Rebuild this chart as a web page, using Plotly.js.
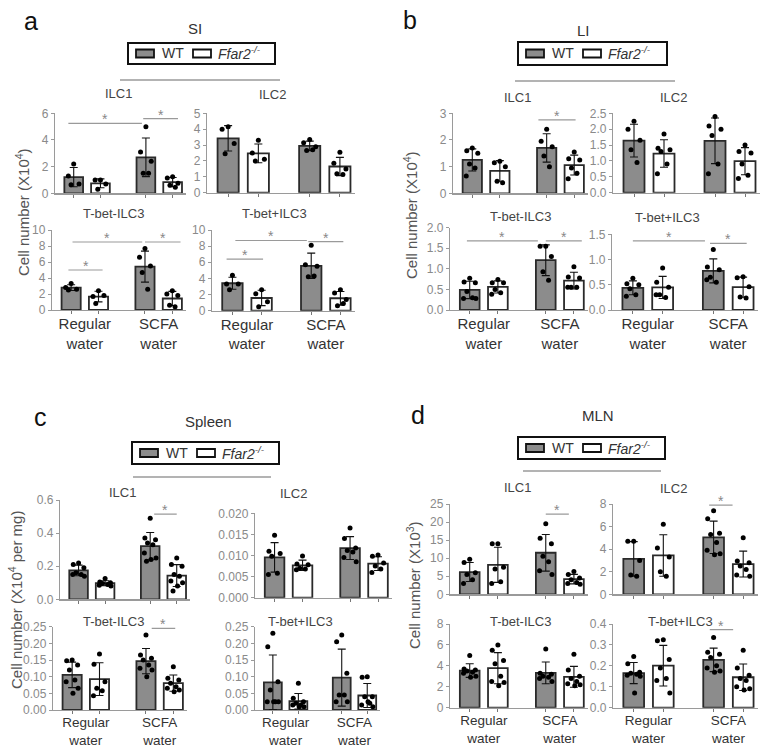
<!DOCTYPE html>
<html><head><meta charset="utf-8">
<script src="https://cdn.plot.ly/plotly-3.0.1.min.js"></script>
<style>html,body{margin:0;padding:0;background:#fff}#chart{width:764px;height:749px}</style>
</head><body><div id="chart"></div>
<script>
// ---------- categories ----------
const tissues = ['SI', 'LI', 'Spleen', 'MLN'];
const cellTypes = ['ILC1', 'ILC2', 'T-bet-ILC3', 'T-bet+ILC3'];
const genotypes = ['WT', 'Ffar2-/-'];
const waterLabels = ['Regular<br>water', 'SCFA<br>water'];
// group order in each array: WT regular, Ffar2-/- regular, WT SCFA, Ffar2-/- SCFA

// ---------- data (individual mice) ----------
const SI_ILC1 = [[2.2,1.3,0.7,0.65],[1.0,1.0,0.7,0.3],[5.0,3.1,2.4,1.5,1.5],[1.25,1.15,0.75,0.6,0.45]];
const SI_ILC2 = [[4.15,4.0,3.1,2.45],[3.3,2.5,2.1,2.0],[3.35,3.15,2.9,2.65,2.7],[2.55,1.85,1.5,1.2,1.15]];
const SI_TbetNeg = [[3.3,2.8,2.6,2.5],[2.4,1.7,1.8,0.8],[7.7,6.6,5.5,4.7,2.6],[2.4,2.0,1.8,0.6,0.4]];
const SI_TbetPos = [[4.4,3.3,3.3,2.6],[2.6,2.1,1.1,0.5],[8.1,5.7,5.5,4.2,4.3],[2.6,2.2,1.4,0.6,0.9]];

const LI_ILC1 = [[1.7,1.6,1.5,1.1,0.95,0.65],[1.2,1.15,1.0,0.45,0.4],[2.4,1.95,1.75,1.4,1.0],[1.55,1.3,1.25,0.95,0.75,0.55]];
const LI_ILC2 = [[2.25,2.0,1.65,1.35,0.95],[1.85,1.4,1.35,1.3,0.9,0.6],[2.4,2.1,2.0,1.8,0.9,0.6],[1.5,1.3,1.25,0.9,0.55,0.45]];
const LI_TbetNeg = [[0.77,0.68,0.66,0.45,0.3,0.28,0.28],[0.74,0.66,0.66,0.5,0.42,0.38],[1.55,1.55,1.3,0.93,0.72],[1.05,0.8,0.78,0.55,0.55,0.55]];
const LI_TbetPos = [[0.63,0.52,0.5,0.42,0.3,0.27],[0.83,0.55,0.45,0.3,0.25,0.3],[1.2,0.85,0.8,0.65,0.55,0.6],[0.66,0.64,0.46,0.26,0.24]];

const SP_ILC1 = [[0.22,0.21,0.19,0.16,0.15,0.15,0.14],[0.125,0.105,0.1,0.095,0.09,0.085,0.08],[0.49,0.37,0.36,0.34,0.33,0.28,0.25,0.24,0.23],[0.25,0.21,0.2,0.15,0.14,0.11,0.1,0.08,0.05]];
const SP_ILC2 = [[0.0148,0.011,0.0105,0.0098,0.0058,0.0055],[0.0099,0.008,0.0078,0.007,0.0068,0.0066],[0.0165,0.014,0.0118,0.0112,0.0108,0.0095,0.0085],[0.0101,0.0098,0.0082,0.0075,0.0068,0.006]];
const SP_TbetNeg = [[0.15,0.148,0.135,0.12,0.09,0.085,0.065,0.05],[0.168,0.137,0.085,0.065,0.058,0.043],[0.225,0.165,0.155,0.15,0.135,0.125,0.12,0.1],[0.13,0.095,0.09,0.08,0.07,0.065,0.06,0.055]];
const SP_TbetPos = [[0.23,0.19,0.085,0.06,0.025,0.025,0.025,0.025],[0.08,0.035,0.025,0.02,0.015,0.015,0.01,0.01],[0.225,0.205,0.11,0.045,0.045,0.025,0.025],[0.1,0.098,0.04,0.04,0.02,0.015,0.01,0.025]];

const MLN_ILC1 = [[9.7,8.8,6,5.5,4,3.0],[14,14,7.5,7,3.5,3],[19.5,15.5,14,10.5,9,6.5,5.5],[6.3,5.5,4.5,4,3.3,3,2.8]];
const MLN_ILC2 = [[4.7,4.7,3.0,1.7,1.6],[6.2,4.1,3.3,2.0,1.6],[7.4,6.7,5.4,5.3,4.6,3.9,3.6,3.5],[5.0,2.95,2.8,2.5,2.2,1.7,1.6]];
const MLN_TbetNeg = [[5.0,3.7,3.6,3.5,3.4,3.3,3.0,2.9],[6.0,5.5,4.5,4.2,3.0,2.5,2.4,2.1],[5.6,3.3,3.2,3.0,2.9,2.8,2.5],[5.1,3.6,3.0,2.8,2.5,2.3,2.2,2.1]];
const MLN_TbetPos = [[0.245,0.21,0.17,0.165,0.16,0.155,0.15,0.07],[0.325,0.32,0.23,0.19,0.14,0.13,0.07],[0.335,0.265,0.255,0.24,0.2,0.19,0.175,0.17],[0.275,0.19,0.155,0.14,0.13,0.1,0.09,0.085]];

// ---------- layout configuration ----------
const W = 764, H = 749;
const FONT = 'Arial, "Liberation Sans", sans-serif';
const xPos = [0, 1, 2.7, 3.7];
const fills = ['#8c8c8c', '#ffffff', '#8c8c8c', '#ffffff'];
const JIT = [0, -0.2, 0.2, -0.1, 0.1, -0.22, 0.22, 0.03, -0.14];
const AX = '#9a9a9a';

// box: [left, right, top, bottom] in px
const subplots = [
  {data: SI_ILC1, title: cellTypes[0], box: [55,186,113.3,193.3], ymax: 6, dtick: 2, fmt: '', tpos: [118,93], bottom: false, sig: [[-0.2,2.55,5.25],[2.6,3.9,5.6]]},
  {data: SI_ILC2, title: cellTypes[1], box: [207,355,113.3,192.7], ymax: 5, dtick: 1, fmt: '', tpos: [272,95], bottom: false, sig: []},
  {data: SI_TbetNeg, title: cellTypes[2], box: [52,186,230,310], ymax: 10, dtick: 2, fmt: '', tpos: [113,213], bottom: true, sig: [[-0.1,1.15,5.0],[0.05,2.6,8.5],[2.7,4.0,8.5]]},
  {data: SI_TbetPos, title: cellTypes[3], box: [212,355,230,310.7], ymax: 10, dtick: 2, fmt: '', tpos: [274,213], bottom: true, sig: [[-0.2,1.05,6.4],[0.1,2.55,8.7],[2.6,3.8,8.55]]},

  {data: LI_ILC1, title: cellTypes[0], box: [453,588,113.3,193.3], ymax: 3, dtick: 1, fmt: '', tpos: [517,97], bottom: false, sig: [[2.4,3.75,2.75]]},
  {data: LI_ILC2, title: cellTypes[1], box: [613,760,113.3,192.7], ymax: 2.5, dtick: 0.5, fmt: '.1f', tpos: [673,97], bottom: false, sig: []},
  {data: LI_TbetNeg, title: cellTypes[2], box: [450,588,227.7,310], ymax: 2, dtick: 0.5, fmt: '.1f', tpos: [520,217], bottom: true, sig: [[-0.1,2.42,1.68],[2.7,3.98,1.68]]},
  {data: LI_TbetPos, title: cellTypes[3], box: [612,758,234.3,310], ymax: 1.5, dtick: 0.5, fmt: '.1f', tpos: [667,218], bottom: true, sig: [[0.0,2.42,1.37],[2.59,3.82,1.32]]},

  {data: SP_ILC1, title: cellTypes[0], box: [60,190,500,599.3], ymax: 0.6, dtick: 0.2, fmt: '.1f', tpos: [123,492], bottom: false, sig: [[2.85,3.7,0.515]]},
  {data: SP_ILC2, title: cellTypes[1], box: [255,392,513.3,597.7], ymax: 0.02, dtick: 0.005, fmt: '.3f', tpos: [293,493], bottom: false, sig: []},
  {data: SP_TbetNeg, title: cellTypes[2], box: [53,187,626.7,710], ymax: 0.25, dtick: 0.05, fmt: '.2f', tpos: [113,621], bottom: true, sig: [[2.91,3.77,0.245]]},
  {data: SP_TbetPos, title: cellTypes[3], box: [255,380,626.7,710], ymax: 0.25, dtick: 0.05, fmt: '.2f', tpos: [300,621], bottom: true, sig: []},

  {data: MLN_ILC1, title: cellTypes[0], box: [450,588,504,594.3], ymax: 25, dtick: 5, fmt: '', tpos: [517,487], bottom: false, sig: [[2.7,3.52,22.2]]},
  {data: MLN_ILC2, title: cellTypes[1], box: [613,758,504,594.3], ymax: 8, dtick: 2, fmt: '', tpos: [673,489], bottom: false, sig: [[2.55,3.34,7.9]]},
  {data: MLN_TbetNeg, title: cellTypes[2], box: [450,588,624,707.7], ymax: 8, dtick: 2, fmt: '', tpos: [520,621], bottom: true, sig: []},
  {data: MLN_TbetPos, title: cellTypes[3], box: [613,758,624,707.7], ymax: 0.4, dtick: 0.1, fmt: '.1f', tpos: [680,621], bottom: true, sig: [[2.57,3.36,0.373]]}
];

// panel headers: letter, tissue, legend box, divider line, y-axis title
const panelHeads = [
  {letter: 'a', lpos: [31,21], tissue: tissues[0], tpos: [195,28], legend: [128,43,275,64], line: [120,280,80], ytitle: 'Cell number (X10<sup>4</sup>)', ypos: [22,212]},
  {letter: 'b', lpos: [410,20], tissue: tissues[1], tpos: [583,30], legend: [518,42,667,65], line: [515,675,81], ytitle: 'Cell number (X10<sup>4</sup>)', ypos: [410,215]},
  {letter: 'c', lpos: [40,417], tissue: tissues[2], tpos: [208,421], legend: [132,442,279,464], line: [133,271,477], ytitle: 'Cell number (X10<sup>4</sup> per mg)', ypos: [15,600]},
  {letter: 'd', lpos: [418,415], tissue: tissues[3], tpos: [598,415], legend: [518,437,665,459], line: [523,661,471], ytitle: 'Cell number (X10<sup>3</sup>)', ypos: [413,585]}
];

// ---------- helpers ----------
const px = x => x / W;
const py = y => 1 - y / H;
const mean = a => a.reduce((s, v) => s + v, 0) / a.length;
const sd = a => { const m = mean(a); return Math.sqrt(a.reduce((s, v) => s + (v - m) * (v - m), 0) / (a.length - 1)); };

const traces = [];
const layout = {
  width: W, height: H, margin: {l: 0, r: 0, t: 0, b: 0},
  paper_bgcolor: '#fff', plot_bgcolor: 'rgba(0,0,0,0)',
  showlegend: false, font: {family: FONT},
  shapes: [], annotations: []
};

subplots.forEach((sp, i) => {
  const k = i + 1;
  const lower = i >= 8;
  const xa = k === 1 ? 'x' : 'x' + k, ya = k === 1 ? 'y' : 'y' + k;
  const means = sp.data.map(mean), sds = sp.data.map(sd);
  traces.push({
    type: 'bar', x: xPos, y: means, width: 0.7, xaxis: xa, yaxis: ya,
    marker: {color: fills, line: {color: '#2a2a2a', width: 1.8}},
    error_y: {type: 'data', array: sds, visible: true, color: '#111', thickness: 1.1, width: 4},
    hoverinfo: 'skip'
  });
  const dx = [], dy = [];
  sp.data.forEach((vals, g) => vals.forEach((v, j) => { dx.push(xPos[g] + JIT[j % JIT.length]); dy.push(v); }));
  traces.push({type: 'scatter', mode: 'markers', x: dx, y: dy, xaxis: xa, yaxis: ya, cliponaxis: false,
    marker: {size: 5, color: '#000'}, hoverinfo: 'skip'});

  const [l, r, t, b] = sp.box;
  const xax = {
    anchor: ya, domain: [px(l), px(r)], range: [-0.7, 4.2], fixedrange: true,
    showline: true, linecolor: AX, linewidth: 1.2, zeroline: false, showgrid: false,
    tickmode: 'array', ticks: '',
    minor: {tickmode: 'array', tickvals: xPos, ticks: 'outside', ticklen: 3, tickwidth: 1, tickcolor: '#777', showgrid: false}
  };
  if (sp.bottom) {
    xax.tickvals = [(xPos[0] + xPos[1]) / 2, (xPos[2] + xPos[3]) / 2];
    xax.ticktext = waterLabels;
    xax.tickfont = {size: lower ? 13.5 : 15, color: '#333', family: FONT};
  } else {
    xax.tickvals = [];
    xax.showticklabels = false;
  }
  layout[k === 1 ? 'xaxis' : 'xaxis' + k] = xax;
  layout[k === 1 ? 'yaxis' : 'yaxis' + k] = {
    anchor: xa, domain: [py(b), py(t)], range: [0, sp.ymax], fixedrange: true,
    tick0: 0, dtick: sp.dtick, tickformat: sp.fmt, ticks: 'outside', ticklen: 3, tickwidth: 1, tickcolor: AX,
    showline: true, linecolor: AX, linewidth: 1.2, zeroline: false, showgrid: false,
    tickfont: {size: 12, color: '#8a8a8a', family: FONT}
  };
  layout.annotations.push({xref: 'paper', yref: 'paper', x: px(sp.tpos[0]), y: py(sp.tpos[1]), text: sp.title,
    showarrow: false, xanchor: 'center', yanchor: 'middle', font: {size: 13, color: '#444', family: FONT}});
  sp.sig.forEach(s => {
    layout.shapes.push({type: 'line', xref: xa, yref: ya, x0: s[0], x1: s[1], y0: s[2], y1: s[2], line: {color: AX, width: 1.2}});
    layout.annotations.push({xref: xa, yref: ya, x: (s[0] + s[1]) / 2, y: s[2], text: '*', showarrow: false,
      xanchor: 'center', yanchor: 'bottom', yshift: -6, font: {size: 14, color: '#888', family: FONT}});
  });
});

panelHeads.forEach(p => {
  layout.annotations.push({xref: 'paper', yref: 'paper', x: px(p.lpos[0]), y: py(p.lpos[1]), text: p.letter, showarrow: false,
    xanchor: 'center', yanchor: 'middle', font: {size: 25, color: '#111', family: FONT}});
  layout.annotations.push({xref: 'paper', yref: 'paper', x: px(p.tpos[0]), y: py(p.tpos[1]), text: p.tissue, showarrow: false,
    xanchor: 'center', yanchor: 'middle', font: {size: 15, color: '#333', family: FONT}});
  layout.annotations.push({xref: 'paper', yref: 'paper', x: px(p.ypos[0]), y: py(p.ypos[1]), text: p.ytitle, showarrow: false,
    textangle: -90, xanchor: 'center', yanchor: 'middle', font: {size: 15, color: '#555', family: FONT}});
  const [x0, y0, x1, y1] = p.legend;
  const yc = (y0 + y1) / 2;
  layout.shapes.push({type: 'rect', xref: 'paper', yref: 'paper', x0: px(x0), x1: px(x1), y0: py(y1), y1: py(y0),
    line: {color: '#111', width: 2}, fillcolor: '#fff'});
  layout.shapes.push({type: 'rect', xref: 'paper', yref: 'paper', x0: px(x0 + 8), x1: px(x0 + 26), y0: py(yc + 4), y1: py(yc - 4),
    line: {color: '#111', width: 1.8}, fillcolor: fills[0]});
  layout.shapes.push({type: 'rect', xref: 'paper', yref: 'paper', x0: px(x0 + 65), x1: px(x0 + 83), y0: py(yc + 4), y1: py(yc - 4),
    line: {color: '#111', width: 1.8}, fillcolor: fills[1]});
  layout.annotations.push({xref: 'paper', yref: 'paper', x: px(x0 + 32), y: py(yc), text: genotypes[0], showarrow: false,
    xanchor: 'left', yanchor: 'middle', font: {size: 14, color: '#333', family: FONT}});
  layout.annotations.push({xref: 'paper', yref: 'paper', x: px(x0 + 88), y: py(yc), text: '<i>Ffar2<sup>-/-</sup></i>', showarrow: false,
    xanchor: 'left', yanchor: 'middle', font: {size: 14, color: '#333', family: FONT}});
  layout.shapes.push({type: 'line', xref: 'paper', yref: 'paper', x0: px(p.line[0]), x1: px(p.line[1]), y0: py(p.line[2]), y1: py(p.line[2]),
    line: {color: AX, width: 1.3}});
});

Plotly.newPlot('chart', traces, layout, {displayModeBar: false, staticPlot: true});
</script>
</body></html>
